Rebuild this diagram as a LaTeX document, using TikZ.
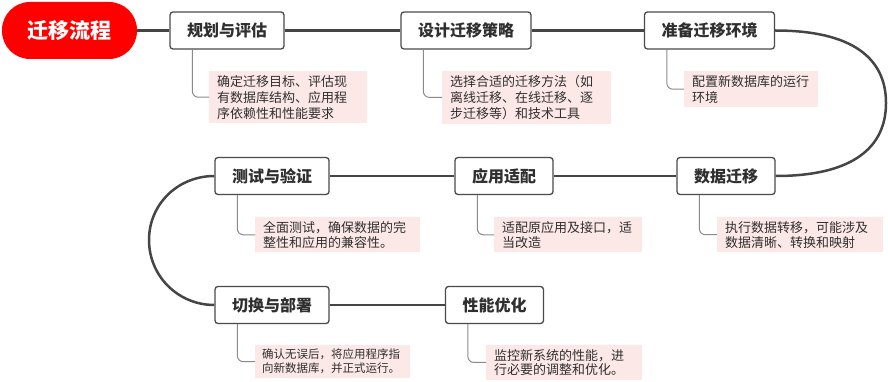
\documentclass[tikz,border=0pt]{standalone}
\usepackage{fontspec}
\setmainfont{Noto Sans CJK SC}
\usetikzlibrary{positioning}
\definecolor{rootred}{HTML}{FF0000}
\definecolor{framegray}{HTML}{4A4A4A}
\definecolor{trunkgray}{HTML}{454545}
\definecolor{twiggray}{HTML}{8A8A8A}
\definecolor{notepink}{HTML}{FCE9E7}
\definecolor{inkgray}{HTML}{2F2F2F}
\begin{document}
\begin{tikzpicture}[x=1pt, y=-1pt,
    root/.style={rectangle, rounded corners=28pt, fill=rootred, text=white, minimum width=135pt, minimum height=57pt, font=\fontsize{21}{24}\selectfont\bfseries},
    stage/.style={rectangle, draw=framegray, line width=1.3pt, rounded corners=3pt, fill=white, text=inkgray, minimum height=37pt, inner xsep=17pt, font=\fontsize{16}{19}\selectfont\bfseries},
    note/.style={rectangle, fill=notepink, text=inkgray, anchor=north west, align=left, inner xsep=8pt, inner ysep=4pt, font=\fontsize{13}{16}\selectfont},
    trunk/.style={draw=trunkgray, line width=2.5pt},
    twig/.style={draw=twiggray, line width=1pt, rounded corners=6pt}
]
\useasboundingbox (0,0) rectangle (888,382);

\node[root] (root) at (69.5, 30.5) {迁移流程};

\node[stage] (plan) at (227, 30.5) {规划与评估};
\node[stage] (design) at (466, 30.5) {设计迁移策略};
\node[stage] (prepare) at (709.5, 30.5) {准备迁移环境};
\node[stage] (migrate) at (726, 176) {数据迁移};
\node[stage] (adapt) at (504, 176) {应用适配};
\node[stage] (test) at (272, 176) {测试与验证};
\node[stage] (switch) at (272, 305) {切换与部署};
\node[stage] (tune) at (494.5, 305) {性能优化};

\node[note, text width=142pt] (plan-note) at (209, 71) {确定迁移目标、评估现\\有数据库结构、应用程\\序依赖性和性能要求};
\node[note, text width=153pt] (design-note) at (442, 71) {选择合适的迁移方法（如\\离线迁移、在线迁移、逐\\步迁移等）和技术工具};
\node[note, text width=118pt] (prepare-note) at (684, 71) {配置新数据库的运行\\环境};
\node[note, text width=150pt, font=\fontsize{13}{15}\selectfont] (migrate-note) at (717, 217) {执行数据转移，可能涉及\\数据清晰、转换和映射};
\node[note, text width=132pt, font=\fontsize{13}{15}\selectfont] (adapt-note) at (494, 217) {适配原应用及接口，适\\当改造};
\node[note, text width=149pt, font=\fontsize{13}{15}\selectfont] (test-note) at (255, 217) {全面测试，确保数据的完\\整性和应用的兼容性。};
\node[note, text width=141pt, inner xsep=7pt, font=\fontsize{11.5}{14}\selectfont] (switch-note) at (255, 345) {确认无误后，将应用程序指\\向新数据库，并正式运行。};
\node[note, text width=140pt, font=\fontsize{13}{14.5}\selectfont] (tune-note) at (486, 345) {监控新系统的性能，进\\行必要的调整和优化。};

\draw[trunk] (root.east) -- (plan.west);
\draw[trunk] (plan.east) -- (design.west);
\draw[trunk] (design.east) -- (prepare.west);
\draw[trunk] (prepare.east) .. controls (852, 30.5) and (886, 58) .. (886, 103) .. controls (886, 148) and (852, 176) .. (migrate.east);
\draw[trunk] (migrate.west) -- (adapt.east);
\draw[trunk] (adapt.west) -- (test.east);
\draw[trunk] (test.west) .. controls (178, 176) and (149, 204) .. (149, 240) .. controls (149, 276) and (178, 305) .. (switch.west);
\draw[trunk] (switch.east) -- (tune.west);

\draw[twig] ([xshift=23pt]plan.south west) |- (plan-note.west);
\draw[twig] ([xshift=23pt]design.south west) |- (design-note.west);
\draw[twig] ([xshift=23pt]prepare.south west) |- (prepare-note.west);
\draw[twig] ([xshift=23pt]migrate.south west) |- (migrate-note.west);
\draw[twig] ([xshift=23pt]adapt.south west) |- (adapt-note.west);
\draw[twig] ([xshift=23pt]test.south west) |- (test-note.west);
\draw[twig] ([xshift=23pt]switch.south west) |- (switch-note.west);
\draw[twig] ([xshift=23pt]tune.south west) |- (tune-note.west);

\end{tikzpicture}
\end{document}
